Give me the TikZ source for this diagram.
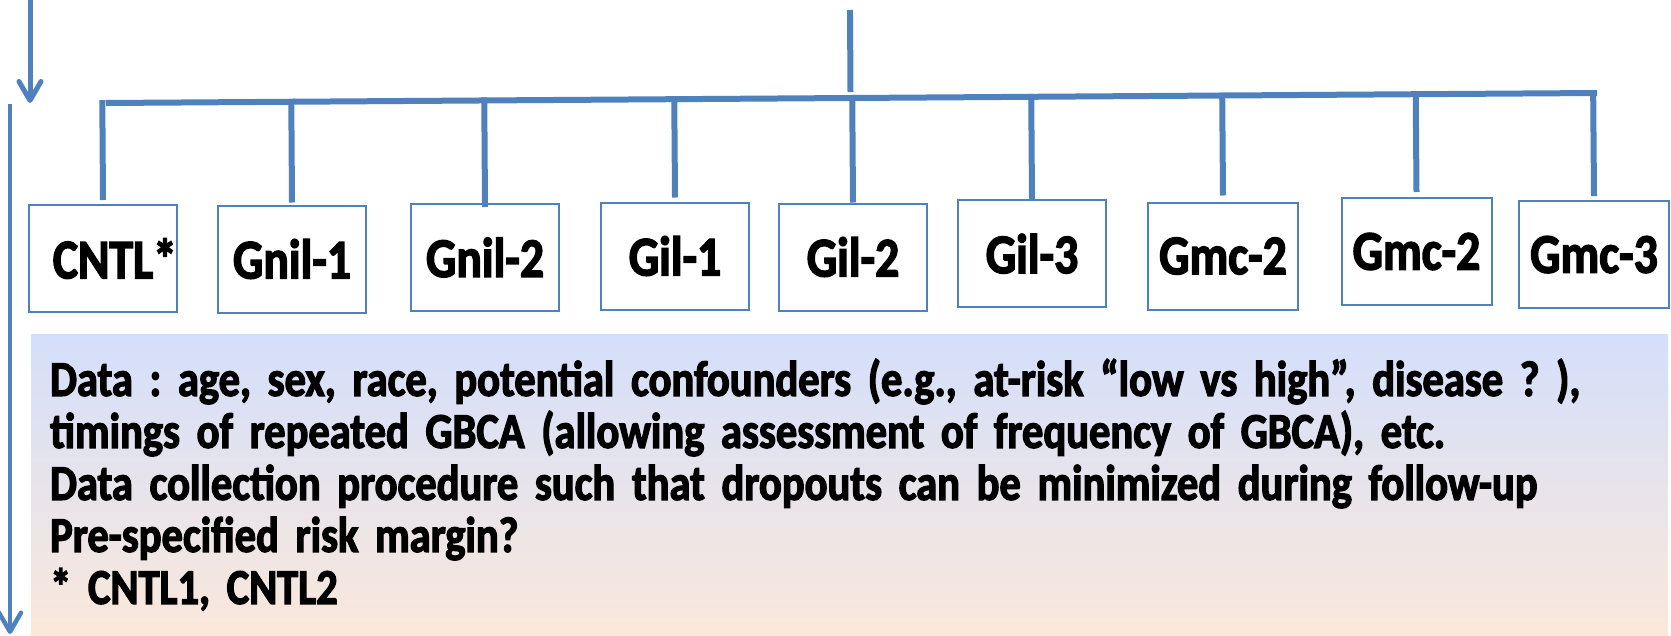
\documentclass[tikz,border=0pt]{standalone}
\usepackage{fontspec}
\setmainfont{Carlito}[FakeStretch=0.85, BoldFeatures={FakeBold=2.5}]
\usetikzlibrary{arrows.meta,calc}

\definecolor{linkblue}{RGB}{79,129,189}
\definecolor{notetop}{RGB}{212,223,251}
\definecolor{notebot}{RGB}{250,232,219}

\tikzset{
  grp/.style={draw=linkblue, line width=2pt, minimum width=148pt,
    minimum height=107pt, inner sep=0pt,
    font=\fontsize{56}{66}\selectfont\bfseries},
  bus/.style={draw=linkblue, line width=6pt},
  flow/.style={draw=linkblue, line width=5pt,
    -{Straight Barb[round,length=19pt,width=22pt]}},
  notes/.style={top color=notetop, bottom color=notebot, text width=1599pt,
    inner xsep=19pt, inner ysep=0pt, minimum height=301pt, align=left,
    font=\fontsize{50}{52}\selectfont\bfseries\frenchspacing}
}

\begin{document}
\begin{tikzpicture}[x=1pt,y=-1pt]
    % Fix the page to the reference size
    \useasboundingbox (0,0) rectangle (1671,635);
    % Draw the group boxes
    \node[grp] (cntl) at (103,258.5) {CNTL\rlap{*}};
    \node[grp] (gnil1) at (292,259) {Gnil-1};
    \node[grp] (gnil2) at (485,257.5) {Gnil-2};
    \node[grp] (gil1) at (675,256) {Gil-1};
    \node[grp] (gil2) at (853,257) {Gil-2};
    \node[grp] (gil3) at (1032,253.7) {Gil-3};
    \node[grp, minimum width=150pt] (gmca) at (1223,256) {Gmc-2};
    \node[grp, minimum width=150pt] (gmcb) at (1416.5,251.5) {Gmc-2};
    \node[grp, minimum width=150pt] (gmcc) at (1594,254.6) {Gmc-3};
    % Draw the bar across the groups
    \coordinate (barL) at (106,103);
    \coordinate (barR) at (1597,93);
    \draw[bus] (barL) -- (barR);
    % Draw the stem above the bar
    \coordinate (stem) at (850,10);
    \draw[bus, shorten >=6pt] (stem) -- ($(barL)!(stem)!(barR)$);
    % Draw the drops to each box
    \foreach \g/\gap in {cntl/4,gnil1/2,gnil2/-4,gil1/4,gil2/0,gil3/0,gmca/6,gmcb/5,gmcc/4}
      \draw[bus, shorten <=-3pt] ($(barL)!(\g.north)!(barR)$) -- ([yshift=\gap pt]\g.north);
    % Draw the arrows on the left
    \coordinate (inTop) at (30,0);
    \coordinate (inEnd) at (30,103);
    \draw[flow] (inTop) -- (inEnd);
    \coordinate (timeTop) at (10,104);
    \coordinate (timeEnd) at (10,634);
    \draw[flow, line width=4.5pt] (timeTop) -- (timeEnd);
    % Draw the notes under the boxes
    \node[notes, anchor=north west] (data) at (31,334)
      {Data : age, sex, race, potential confounders (e.g., at-risk “low vs high”, disease ? ),\\
       timings of repeated GBCA (allowing assessment of frequency of GBCA), etc.\\
       Data collection procedure such that dropouts can be minimized during follow-up\\
       Pre-specified risk margin?\\{}
       * CNTL1, CNTL2};
\end{tikzpicture}
\end{document}
